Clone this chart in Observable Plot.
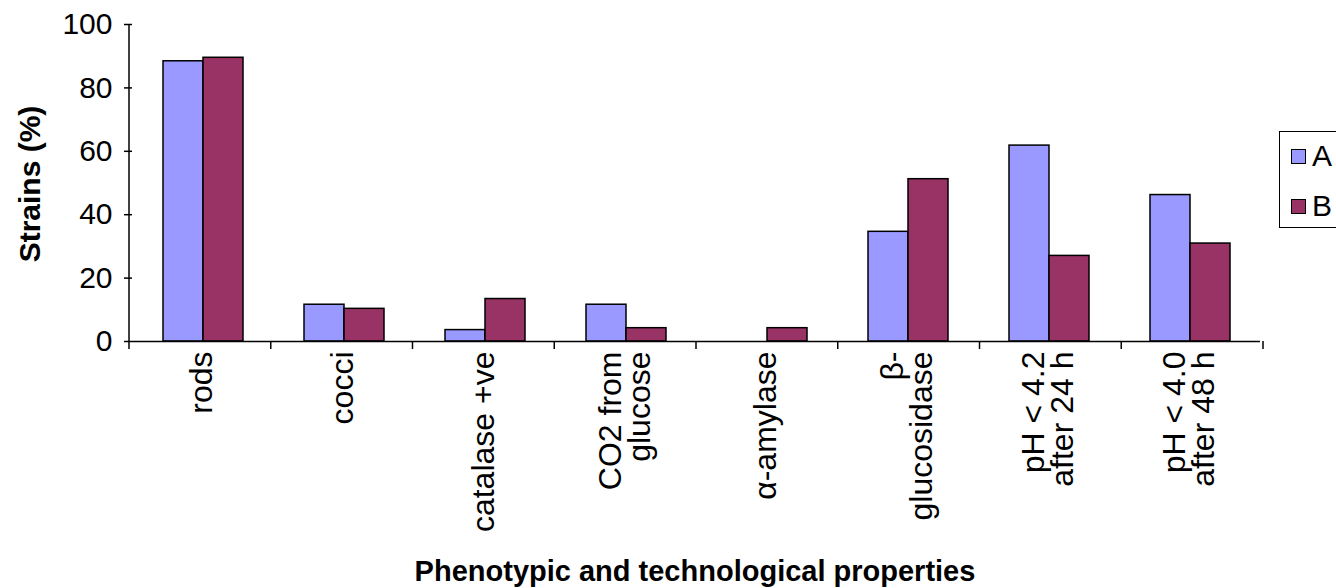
<!DOCTYPE html>
<html>
<head>
<meta charset="utf-8">
<script src="https://cdn.jsdelivr.net/npm/d3@7"></script>
<script src="https://cdn.jsdelivr.net/npm/@observablehq/plot@0.6"></script>
<style>
  html, body { margin: 0; padding: 0; background: #fff; overflow: hidden; }
  #wrap { position: relative; width: 1336px; height: 588px; font-family: "Liberation Sans", Arial, sans-serif; }
  #chart { position: absolute; left: 0; top: 0; }
  .ylab { position: absolute; left: 30px; top: 184px; transform: translate(-50%, -50%) rotate(-90deg); font-weight: bold; font-size: 30px; white-space: nowrap; }
  .xlab { position: absolute; left: 695px; top: 571px; transform: translate(-50%, -50%); font-weight: bold; font-size: 29px; white-space: nowrap; }
  .legend { position: absolute; left: 1279px; top: 131px; width: 90px; height: 97px; border: 1.5px solid #000; box-sizing: border-box; }
  .item { position: absolute; left: 11px; display: flex; align-items: center; font-size: 30px; line-height: 32px; }
  .sw { width: 13px; height: 13px; border: 1.5px solid #000; margin-right: 6px; }
</style>
</head>
<body>
<div id="wrap">
  <div id="chart"></div>
  <div class="ylab">Strains (%)</div>
  <div class="xlab">Phenotypic and technological properties</div>
  <div class="legend" id="legend"></div>
</div>
<script>
const categories = ["rods", "cocci", "catalase +ve", "CO2 from glucose", "α-amylase", "β-glucosidase", "pH < 4.2 after 24 h", "pH < 4.0 after 48 h"];
const categoryLabels = ["rods", "cocci", "catalase +ve", "CO2 from\nglucose", "α-amylase", "β-\nglucosidase", "pH < 4.2\nafter 24 h", "pH < 4.0\nafter 48 h"];
const seriesNames = ["A", "B"];
const seriesA = [88.4, 11.6, 3.6, 11.6, 0, 34.6, 61.8, 46.2];
const seriesB = [89.5, 10.3, 13.4, 4.2, 4.2, 51.2, 27.0, 30.9];
const seriesColors = ["#9999FF", "#993366"];
const yTicks = [0, 20, 40, 60, 80, 100];

const rows = [];
categories.forEach((c, i) => {
  rows.push({category: c, series: seriesNames[0], value: seriesA[i]});
  rows.push({category: c, series: seriesNames[1], value: seriesB[i]});
});
const labelOf = new Map(categories.map((c, i) => [c, categoryLabels[i]]));

const plot = Plot.plot({
  width: 1336,
  height: 588,
  marginLeft: 129,
  marginRight: 73,
  marginTop: 24,
  marginBottom: 247,
  style: {fontFamily: "'Liberation Sans', Arial, sans-serif", fontSize: "30px", color: "#000", background: "#fff"},
  fx: {domain: categories, padding: 0},
  x: {domain: seriesNames, paddingInner: 0, paddingOuter: 0.73, axis: null},
  y: {domain: [0, 100], axis: null},
  color: {domain: seriesNames, range: seriesColors},
  marks: [
    Plot.barY(rows, {fx: "category", x: "series", y: "value", fill: "series", stroke: "#000", strokeWidth: 1.5}),
    Plot.ruleY([0], {stroke: "#000", strokeWidth: 1.5}),
    Plot.axisY({ticks: yTicks, tickSize: 8, tickPadding: 12, fontSize: 30, label: null, stroke: "#000", strokeWidth: 1.5}),
    Plot.axisFx({anchor: "bottom", tickSize: 0, tickRotate: -90, tickPadding: 10, fontSize: 32, lineHeight: 0.9, label: null, tickFormat: d => labelOf.get(d)})
  ]
});
document.getElementById("chart").appendChild(plot);

// Excel-style category boundary ticks and the y-axis line, placed from the plot's own scales
const fx = plot.scale("fx");
const y = plot.scale("y");
const svg = d3.select(plot);
const fxScale = d3.scaleBand().domain(fx.domain).range(fx.range).paddingInner(0).paddingOuter(0);
const bounds = categories.map(c => fxScale(c)).concat([fxScale(categories[categories.length - 1]) + fxScale.bandwidth()]);
const y0 = y.apply(0), y100 = y.apply(100);
const g = svg.append("g").attr("stroke", "#000").attr("stroke-width", 1.5);
g.selectAll("line.b").data(bounds).join("line")
  .attr("x1", d => d).attr("x2", d => d).attr("y1", y0).attr("y2", y0 + 8);
g.append("line").attr("x1", bounds[0]).attr("x2", bounds[0]).attr("y1", y100).attr("y2", y0);

// legend
const legend = document.getElementById("legend");
seriesNames.forEach((s, i) => {
  const item = document.createElement("div");
  item.className = "item";
  item.style.top = (8 + i * 50) + "px";
  const sw = document.createElement("div");
  sw.className = "sw";
  sw.style.background = seriesColors[i];
  const t = document.createElement("span");
  t.textContent = s;
  item.appendChild(sw);
  item.appendChild(t);
  legend.appendChild(item);
});
</script>
</body>
</html>
